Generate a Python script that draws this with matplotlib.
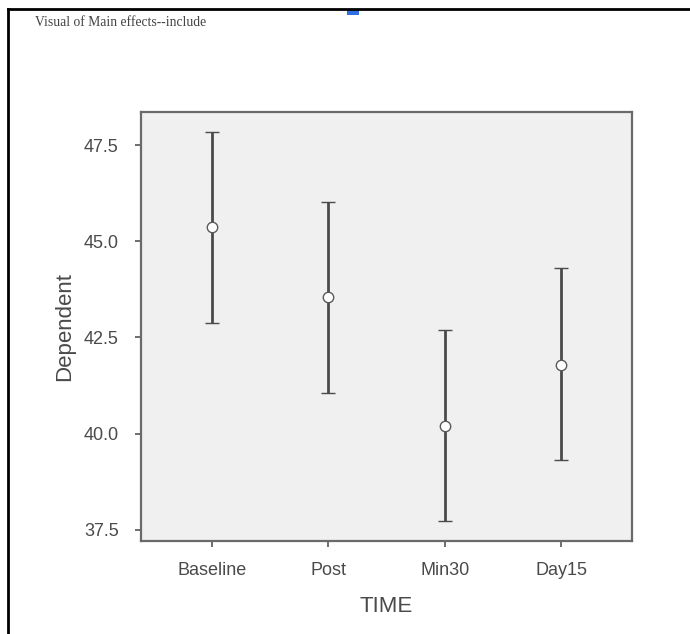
import matplotlib
matplotlib.use("Agg")

import matplotlib.pyplot as plt
from matplotlib.patches import Rectangle
from matplotlib.lines import Line2D


# data
time_points = ["Baseline", "Post", "Min30", "Day15"]
means = [45.37, 43.54, 40.21, 41.79]
ci_upper = [47.85, 46.03, 42.69, 44.30]
ci_lower = [42.88, 41.05, 37.72, 39.32]
y_ticks = [37.5, 40.0, 42.5, 45.0, 47.5]

plt.rcParams["font.family"] = ["Liberation Sans", "DejaVu Sans"]

W, H = 690, 634
fig = plt.figure(figsize=(W / 100, H / 100), dpi=100)

# axes box in pixel coords: left 141, right 632, top 112, bottom 541
ax = fig.add_axes([141 / W, 1 - 541 / H, (632 - 141) / W, (541 - 112) / H])
ax.set_facecolor("#f0f0f0")

x = list(range(len(time_points)))
err_lo = [m - l for m, l in zip(means, ci_lower)]
err_hi = [u - m for m, u in zip(means, ci_upper)]

ax.errorbar(
    x,
    means,
    yerr=[err_lo, err_hi],
    fmt="o",
    color="#4a4a4a",
    ecolor="#4a4a4a",
    elinewidth=2.0,
    capsize=5,
    capthick=2.0,
    markersize=7.5,
    markerfacecolor="white",
    markeredgecolor="#5a5a5a",
    markeredgewidth=1.0,
    zorder=3,
)

ax.set_xlim(-0.61, 3.61)
ax.set_ylim(37.21, 48.36)
ax.set_xticks(x)
ax.set_xticklabels(time_points)
ax.set_yticks(y_ticks)
ax.set_yticklabels([f"{v:.1f}" for v in y_ticks])

for side in ["left", "right", "top", "bottom"]:
    ax.spines[side].set_color("#6a6a6a")
    ax.spines[side].set_linewidth(1.6)

ax.tick_params(axis="both", colors="#555555", labelcolor="#4a4a4a",
               labelsize=13, length=4, width=1.2)
ax.tick_params(axis="x", pad=11)
ax.tick_params(axis="y", pad=12)

ax.set_xlabel("TIME", fontsize=16, color="#4a4a4a", labelpad=12)
ax.set_ylabel("Dependent", fontsize=16, color="#4a4a4a", labelpad=6)

# page decorations around the chart
fig.text(35 / W, 1 - 22 / H, "Visual of Main effects--include",
         fontsize=9.8, family="Liberation Serif", color="#444444",
         va="center", ha="left")

fig.add_artist(Line2D([8 / W, 1.0], [1 - 9 / H, 1 - 9 / H],
                      transform=fig.transFigure, color="black", linewidth=2))
fig.add_artist(Line2D([8 / W, 8 / W], [0.0, 1 - 9 / H],
                      transform=fig.transFigure, color="black", linewidth=2))
fig.add_artist(Rectangle((347 / W, 1 - 15 / H), 12 / W, 5 / H,
                         transform=fig.transFigure, color="#2f6fe0",
                         linewidth=0))

fig.savefig("out.png", dpi=100)
